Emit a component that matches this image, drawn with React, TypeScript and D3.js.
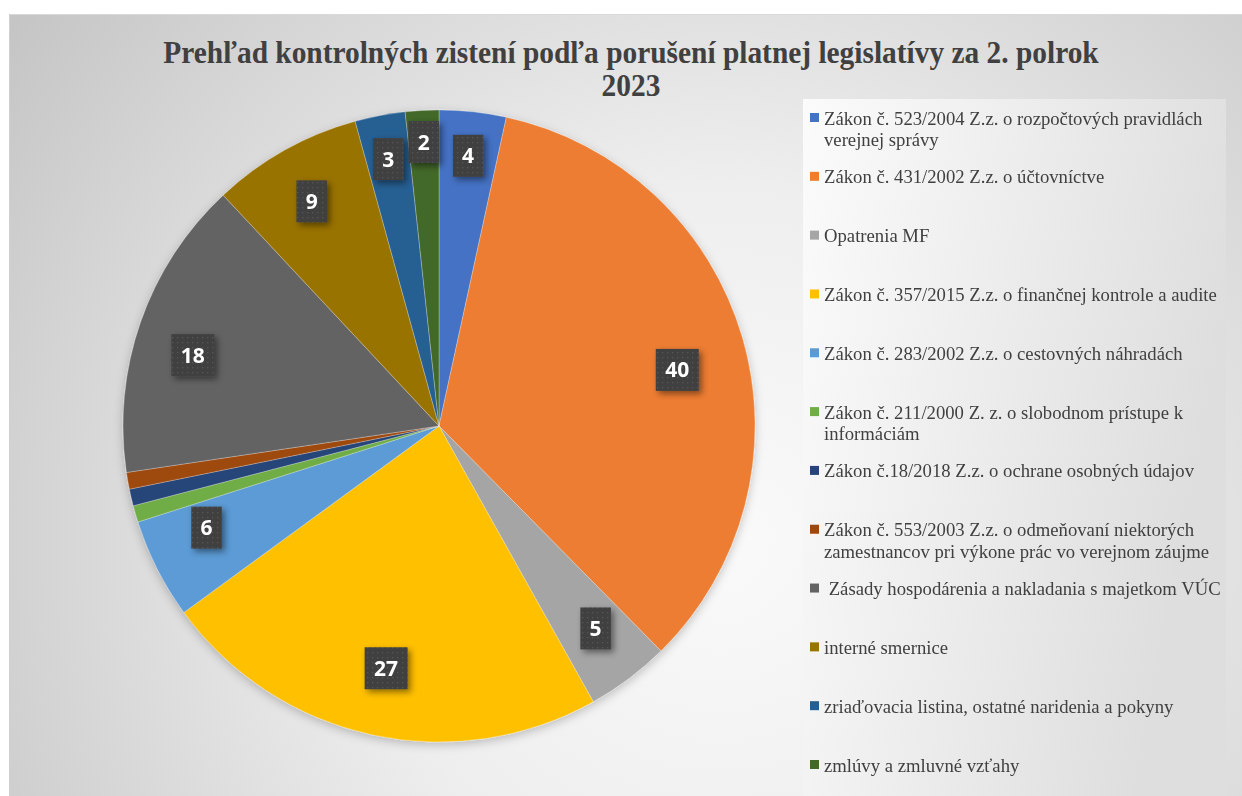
import React from "react";
import * as d3 from "d3";

const categories: string[] = [
  "Zákon č. 523/2004 Z.z. o rozpočtových pravidlách verejnej správy",
  "Zákon č. 431/2002 Z.z. o účtovníctve",
  "Opatrenia MF",
  "Zákon č. 357/2015 Z.z. o finančnej kontrole a audite",
  "Zákon č. 283/2002 Z.z. o cestovných náhradách",
  "Zákon č. 211/2000 Z. z. o slobodnom prístupe k informáciám",
  "Zákon č.18/2018 Z.z. o ochrane osobných údajov",
  "Zákon č. 553/2003 Z.z. o odmeňovaní niektorých zamestnancov pri výkone prác vo verejnom záujme",
  " Zásady hospodárenia a nakladania s majetkom VÚC",
  "interné smernice",
  "zriaďovacia listina, ostatné naridenia a pokyny",
  "zmlúvy a zmluvné vzťahy",
];
const values: number[] = [4, 40, 5, 27, 6, 1, 1, 1, 18, 9, 3, 2];
const colors: string[] = [
  "#4472C4", "#ED7D31", "#A5A5A5", "#FFC000", "#5B9BD5", "#70AD47",
  "#264478", "#9E480E", "#636363", "#997300", "#255E91", "#43682B",
];
const titleLines: string[] = [
  "Prehľad kontrolných zistení podľa porušení platnej legislatívy za 2. polrok",
  "2023",
];

const W = 1242;
const H = 796;
const cx = 439;
const cy = 426;
const R = 316;

const LEGEND_FS = 18.7;
const legendFont = `${LEGEND_FS}px 'Liberation Serif', 'Times New Roman', serif`;
let ctx: CanvasRenderingContext2D | null = null;
function measure(t: string): number {
  if (!ctx) {
    const c = document.createElement("canvas");
    ctx = c.getContext("2d");
  }
  if (!ctx) return t.length * 8;
  ctx.font = legendFont;
  return ctx.measureText(t).width;
}
function wrap(text: string, maxW: number): string[] {
  const lead = text.startsWith(" ") ? " " : "";
  const words = text.trim().split(" ");
  const lines: string[] = [];
  let cur = lead;
  for (const w of words) {
    const test = cur.trim() === "" ? cur + w : cur + " " + w;
    if (measure(test) > maxW && cur.trim() !== "") {
      lines.push(cur);
      cur = w;
    } else cur = test;
  }
  lines.push(cur);
  return lines;
}

export default function App() {
  const pie = d3.pie<number>().sort(null).value((d) => d)(values);
  const arc = d3.arc<d3.PieArcDatum<number>>().innerRadius(0).outerRadius(R);
  const legendY = d3.scalePoint<number>().domain(d3.range(categories.length)).range([118, 765]);

  return (
    <svg
      width={W}
      height={H}
      style={{ position: "absolute", left: 0, top: 0 }}
      xmlns="http://www.w3.org/2000/svg"
    >
      <defs>
        <radialGradient id="bg" gradientUnits="userSpaceOnUse" cx={720} cy={540} r={890}>
          <stop offset="0" stopColor="#fafafa" />
          <stop offset="0.4" stopColor="#eeeeee" />
          <stop offset="1" stopColor="#c4c4c4" />
        </radialGradient>
        <linearGradient id="lg" x1="0" y1="0" x2="1" y2="0.3">
          <stop offset="0" stopColor="#fbfbfb" />
          <stop offset="1" stopColor="#dedede" />
        </linearGradient>
        <pattern id="dots" width="5" height="5" patternUnits="userSpaceOnUse">
          <rect width="5" height="5" fill="#404040" />
          <rect x="2" y="2" width="1.3" height="1.3" fill="#555555" />
        </pattern>
        <filter id="pieShadow" x="-20%" y="-20%" width="140%" height="140%">
          <feDropShadow dx="0" dy="3" stdDeviation="5" floodColor="#000" floodOpacity="0.22" />
        </filter>
        <filter id="boxShadow" x="-40%" y="-40%" width="180%" height="180%">
          <feDropShadow dx="3" dy="3" stdDeviation="3" floodColor="#000" floodOpacity="0.45" />
        </filter>
      </defs>
      <rect x={0} y={0} width={W} height={H} fill="#ffffff" />
      <rect x={9} y={14} width={W - 9} height={H - 14} fill="url(#bg)" />
      <line x1={9} y1={14.5} x2={W} y2={14.5} stroke="#d9d9d9" />
      <line x1={9.5} y1={14} x2={9.5} y2={H} stroke="#d0d0d0" />

      {titleLines.map((t, i) => (
        <text
          key={i}
          x={631}
          y={0}
          transform={`translate(0, ${i === 0 ? 63 : 96}) scale(1, 1.06)`}
          textAnchor="middle"
          fontFamily="'Liberation Serif', 'Times New Roman', serif"
          fontWeight="bold"
          fontSize={29.4}
          fill="#404040"
        >
          {t}
        </text>
      ))}

      <g filter="url(#pieShadow)">
        {pie.map((p, i) => (
          <path
            key={i}
            d={arc(p) || ""}
            transform={`translate(${cx},${cy})`}
            fill={colors[i]}
            stroke="#ffffff"
            strokeOpacity={0.35}
            strokeWidth={0.75}
          />
        ))}
      </g>

      {pie.map((p, i) => {
        if (p.value < 2) return null;
        const mid = (p.startAngle + p.endAngle) / 2;
        const f = p.value >= 20 ? 0.785 : p.value >= 5 ? 0.825 : p.value >= 3 ? 0.86 : 0.9;
        const s = Math.sin(mid);
        const c = Math.cos(mid);
        const squeeze = 1 - 0.22 * Math.pow(Math.abs(s), 4);
        const lx = cx + R * f * s;
        const ly = cy - R * f * c * squeeze;
        const label = String(p.value);
        const bw = label.length * 12.5 + 18;
        const bh = 42;
        return (
          <g key={"l" + i}>
            <rect
              x={lx - bw / 2}
              y={ly - bh / 2}
              width={bw}
              height={bh}
              fill="url(#dots)"
              filter="url(#boxShadow)"
            />
            <text
              x={lx}
              y={ly + 7.5}
              textAnchor="middle"
              fontFamily="'Open Sans', 'Noto Sans', sans-serif"
              fontWeight="bold"
              fontSize={21}
              fill="#ffffff"
            >
              {label}
            </text>
          </g>
        );
      })}

      <rect x={803} y={99} width={1226 - 803} height={H - 99} fill="url(#lg)" />
      {categories.map((c, i) => {
        const y0 = legendY(i) as number;
        const lines = wrap(c, 400);
        return (
          <g key={"g" + i}>
            <rect x={810} y={y0 - 5} width={9} height={9} fill={colors[i]} />
            <text
              x={824}
              y={y0 + 6.5}
              fontFamily="'Liberation Serif', 'Times New Roman', serif"
              fontSize={LEGEND_FS}
              fill="#404040"
              style={{ whiteSpace: "pre" }}
            >
              {lines.map((ln, j) => (
                <tspan key={j} x={824} dy={j === 0 ? 0 : 21.5}>
                  {ln}
                </tspan>
              ))}
            </text>
          </g>
        );
      })}
    </svg>
  );
}
